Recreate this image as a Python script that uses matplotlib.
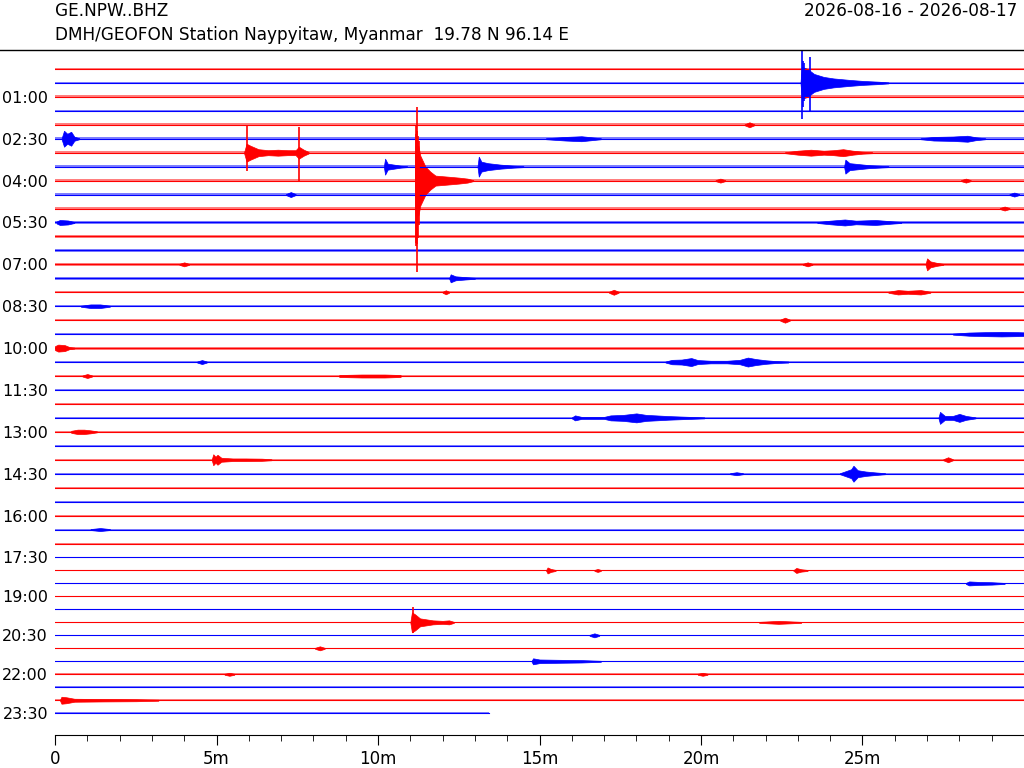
import matplotlib
matplotlib.use('Agg')
import matplotlib.pyplot as plt
from matplotlib.lines import Line2D

# Station / header text
station = 'GE.NPW..BHZ'
description = 'DMH/GEOFON Station Naypyitaw, Myanmar  19.78 N 96.14 E'
date_range = '2026-08-16 - 2026-08-17'

n_rows = 48                 # 30 minute lines, 00:00 .. 23:30
last_row_end = 13.45        # minutes recorded in the last line

tick_rows = [2, 5, 8, 11, 14, 17, 20, 23, 26, 29, 32, 35, 38, 41, 44, 47]
tick_labels = ['01:00', '02:30', '04:00', '05:30', '07:00', '08:30', '10:00', '11:30',
               '13:00', '14:30', '16:00', '17:30', '19:00', '20:30', '22:00', '23:30']

# background noise half-amplitude per line (counts, ~1 px)
noise_amp = [1.3, 1.4, 1.4, 1.3, 1.7, 1.4, 1.4, 1.3, 1.4, 1.3, 1.4, 1.3,
             1.2, 1.2, 1.3, 1.3, 1.2, 1.2, 1.2, 1.3, 1.5, 1.4, 1.4, 1.0,
             1.0, 1.0, 1.0, 0.9, 1.0, 0.9, 0.8, 0.8, 0.8, 0.9, 0.8, 0.8,
             0.8, 0.8, 0.9, 0.8, 0.8, 0.8, 0.8, 0.8, 0.8, 0.8, 0.9, 0.8]

# events: (line, minutes, envelope amplitude)
events = [
    (1, [23.08, 23.12, 23.3, 23.5, 23.8, 24.1, 24.6, 25.0, 25.5, 25.8],
        [0, 16, 14, 9, 6, 4.5, 3, 2, 1.2, 0.5]),
    (4, [21.35, 21.5, 21.65], [0.5, 2.5, 0.5]),
    (5, [0.2, 0.28, 0.38, 0.5, 0.6, 0.75], [0, 8, 5, 7, 2, 0.5]),
    (5, [15.2, 15.8, 16.3, 16.6, 16.9], [0.5, 1.8, 2.5, 1.5, 0.5]),
    (5, [26.8, 27.2, 27.8, 28.25, 28.5, 28.8], [0.5, 1.8, 2.2, 3, 1.5, 0.5]),
    (6, [5.85, 5.93, 6.05, 6.3, 6.6, 6.9, 7.2, 7.45, 7.55, 7.7, 7.85],
        [0, 9, 7, 3.5, 2.5, 3, 2.5, 2.5, 6, 3, 0.8]),
    (6, [22.6, 23.0, 23.4, 23.8, 24.1, 24.4, 24.7, 25.0, 25.3],
        [0.5, 2, 3, 2, 2.5, 3.5, 2, 1, 0.5]),
    (7, [10.18, 10.22, 10.3, 10.5, 10.7, 10.9], [0, 8, 3, 2, 1, 0.5]),
    (7, [13.08, 13.12, 13.2, 13.4, 13.8, 14.2, 14.5], [0, 10, 5, 3.5, 2, 1, 0.5]),
    (7, [24.43, 24.47, 24.6, 24.9, 25.2, 25.5, 25.8], [0, 7, 3.5, 2.5, 1.5, 1, 0.5]),
    (8, [11.14, 11.16, 11.25, 11.31, 11.47, 11.62, 11.78, 12.15, 12.5, 12.77, 12.95],
        [0, 35, 35, 25, 14, 9, 5, 4, 3, 2, 0.5]),
    (8, [20.45, 20.6, 20.75], [0.5, 2, 0.5]),
    (8, [28.05, 28.2, 28.35], [0.5, 2, 0.5]),
    (9, [7.15, 7.3, 7.45], [0.5, 2.5, 0.5]),
    (9, [29.55, 29.7, 29.85], [0.5, 2, 0.5]),
    (10, [29.25, 29.4, 29.55], [0.5, 2, 0.5]),
    (11, [0.05, 0.15, 0.4, 0.6], [1, 2.5, 2, 0.5]),
    (11, [23.6, 24.0, 24.45, 24.8, 25.4, 25.9, 26.2], [0.5, 1.8, 3, 1.8, 2.5, 1.2, 0.5]),
    (14, [3.85, 4.0, 4.15], [0.5, 2, 0.5]),
    (14, [23.15, 23.3, 23.45], [0.5, 2, 0.5]),
    (14, [26.95, 27.0, 27.1, 27.3, 27.5], [0, 6, 3, 1.5, 0.5]),
    (15, [12.2, 12.25, 12.4, 12.7, 13.0], [0, 4, 2, 1.2, 0.5]),
    (16, [12.0, 12.1, 12.2], [0.5, 2, 0.5]),
    (16, [17.15, 17.3, 17.45], [0.5, 2.5, 0.5]),
    (16, [25.8, 26.1, 26.4, 26.8, 27.1], [0.5, 2.2, 1.5, 2.2, 0.5]),
    (17, [0.8, 1.1, 1.4, 1.7], [0.5, 1.8, 1.8, 0.5]),
    (18, [22.45, 22.6, 22.75], [0.5, 2.5, 0.5]),
    (19, [27.8, 28.3, 28.8, 29.3, 29.8, 30.0], [0.5, 1.6, 2, 2.3, 2, 1.8]),
    (20, [0.0, 0.1, 0.3, 0.45, 0.6], [2, 3.5, 3, 1, 0.5]),
    (21, [4.4, 4.55, 4.7], [0.5, 2, 0.5]),
    (21, [18.9, 19.1, 19.4, 19.7, 19.9, 20.3, 20.8, 21.2, 21.45, 21.7, 22.0, 22.3, 22.7],
         [0.5, 2.2, 2.5, 4, 2, 1.3, 1.3, 2.2, 4.5, 3, 1.8, 1, 0.5]),
    (22, [0.85, 1.0, 1.15], [0.5, 2, 0.5]),
    (22, [8.8, 9.5, 10.2, 10.7], [1, 1.5, 1.5, 1]),
    (25, [16.0, 16.1, 16.3, 17.0, 17.2, 17.6, 18.0, 18.3, 18.6, 19.0, 19.5, 20.1],
         [0.5, 2.5, 1, 1, 2.5, 3, 4.5, 3, 2.5, 1.8, 1.2, 0.5]),
    (25, [27.35, 27.4, 27.55, 27.8, 28.0, 28.2, 28.5], [0, 6, 2, 2, 4, 2, 0.5]),
    (26, [0.5, 0.7, 0.9, 1.1, 1.3], [1, 2.2, 2.2, 1.5, 0.5]),
    (28, [4.85, 4.9, 4.97, 5.03, 5.15, 5.5, 5.9, 6.4, 6.7], [0, 5.5, 3, 5, 2, 1.3, 1.3, 1.1, 0.5]),
    (28, [27.5, 27.65, 27.8], [0.5, 2.5, 0.5]),
    (29, [20.9, 21.1, 21.3], [0.5, 1.5, 0.5]),
    (29, [24.3, 24.45, 24.65, 24.72, 24.85, 25.1, 25.4, 25.7], [0.5, 2.2, 4.5, 8, 3.5, 2.2, 1.3, 0.5]),
    (33, [1.1, 1.4, 1.7], [0.5, 1.5, 0.5]),
    (36, [15.2, 15.25, 15.35, 15.5], [0, 3, 1.5, 0.5]),
    (36, [16.7, 16.8, 16.9], [0.5, 1.5, 0.5]),
    (36, [22.85, 22.95, 23.1, 23.3], [0, 2.5, 1.2, 0.5]),
    (37, [28.2, 28.3, 28.6, 29.0, 29.4], [0.5, 2, 1.5, 1.2, 0.5]),
    (40, [11.0, 11.05, 11.15, 11.3, 11.5, 11.7, 12.0, 12.2, 12.35], [0, 10, 8, 4, 3, 2, 1.5, 2, 0.5]),
    (40, [21.8, 22.4, 23.1], [0.5, 1.5, 0.5]),
    (41, [16.55, 16.7, 16.85], [0.5, 2, 0.5]),
    (42, [8.05, 8.2, 8.35], [0.5, 2, 0.5]),
    (43, [14.75, 14.8, 15.0, 15.6, 16.3, 16.9], [0, 3, 1.8, 1.5, 1.2, 0.5]),
    (44, [5.25, 5.4, 5.55], [0.5, 1.5, 0.5]),
    (44, [19.9, 20.05, 20.2], [0.5, 1.5, 0.5]),
    (46, [0.15, 0.2, 0.35, 0.6, 1.5, 2.5, 3.2], [0, 3.5, 3, 1.5, 1.2, 1, 0.5]),
]

# sharp first arrivals: (line, minute, amplitude up, amplitude down)
spikes = [
    (1, 23.12, 40, 36),
    (1, 23.15, 22, 24),
    (1, 23.2, 20, 18),
    (1, 23.36, 26, 28),
    (6, 5.95, 28, 18),
    (6, 7.56, 26, 29),
    (8, 11.17, 47, 63),
    (8, 11.19, 55, 66),
    (8, 11.20, 74, 92),
    (8, 11.22, 50, 64),
    (8, 11.24, 45, 58),
    (8, 11.27, 40, 45),
    (40, 11.08, 15, 11),
]

colors = ['#ff0000', '#0000ff']
line_gap = 14.0             # counts between neighbouring lines


def line_offset(k):
    # the later lines sit a little closer together in the reference
    return k if k <= 35 else 35 + (k - 35) * 0.93


fig = plt.figure(figsize=(10.24, 7.68), dpi=100)
ax = fig.add_axes([55 / 1024, 1 - 735 / 768, 1 - 55 / 1024, 685 / 768])

for k in range(n_rows):
    y0 = line_offset(k)
    c = colors[k % 2]
    x_end = 30 if k < n_rows - 1 else last_row_end
    n = noise_amp[k] / line_gap
    ax.fill_between([0, x_end], y0 - n, y0 + n, color=c, alpha=0.5, lw=0)
    ax.plot([0, x_end], [y0, y0], color=c, lw=0.8)

for row, t, a in events:
    y0 = line_offset(row)
    c = colors[row % 2]
    lo = [y0 - v / line_gap for v in a]
    hi = [y0 + v / line_gap for v in a]
    ax.fill_between(t, lo, hi, color=c, lw=0.5, edgecolor=c)

for row, t, up, down in spikes:
    y0 = line_offset(row)
    ax.vlines(t, y0 - up / line_gap, y0 + down / line_gap, color=colors[row % 2], lw=1.2)

ax.set_xlim(0, 30)
ax.set_ylim(line_offset(47) + 1.57 * 0.93 + 0.1, -19 / 14)
ax.set_xticks([0, 5, 10, 15, 20, 25])
ax.set_xticklabels(['0', '5m', '10m', '15m', '20m', '25m'])
ax.set_xticks([m for m in range(1, 30) if m % 5 != 0], minor=True)
ax.tick_params(axis='x', which='major', length=7, labelsize=12, pad=4)
ax.tick_params(axis='x', which='minor', length=4)
ax.set_yticks([line_offset(k) for k in tick_rows])
ax.set_yticklabels(tick_labels)
ax.tick_params(axis='y', length=0, labelsize=11.5, pad=5)
for s in ['top', 'left', 'right']:
    ax.spines[s].set_visible(False)

fig.add_artist(Line2D([0, 1], [1 - 50 / 768] * 2, color='black', lw=1))
fig.text(55 / 1024, 1 - 11 / 768, station, fontsize=12.2, va='center', ha='left')
fig.text(55 / 1024, 1 - 35 / 768, description, fontsize=12.2, va='center', ha='left')
fig.text(1017 / 1024, 1 - 11 / 768, date_range, fontsize=12.2, va='center', ha='right')

fig.savefig('out.png', dpi=100)
